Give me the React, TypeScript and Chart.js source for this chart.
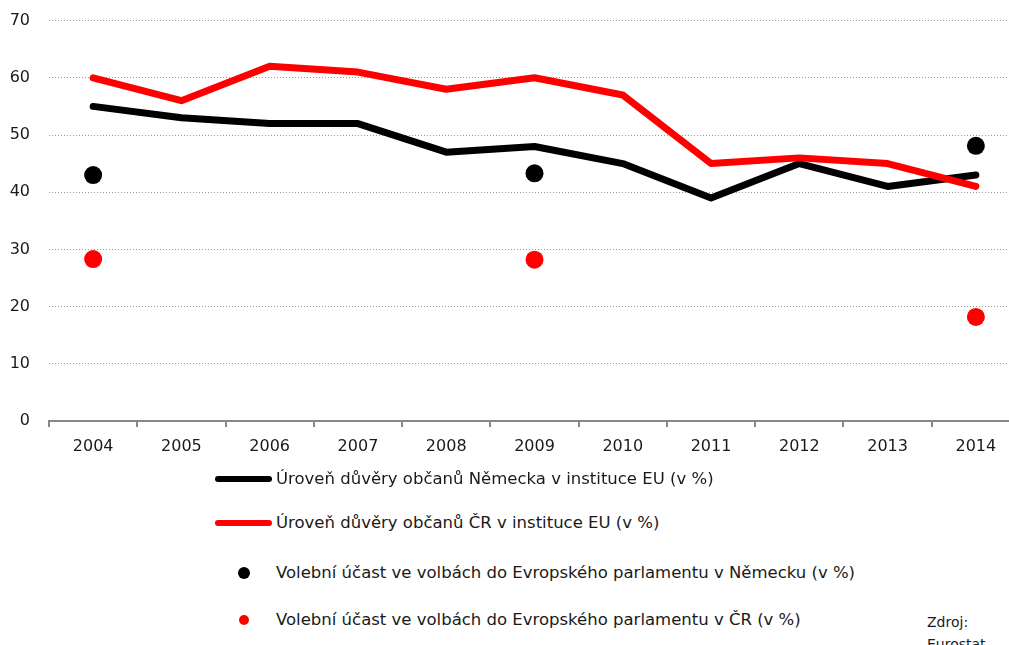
import React, { useEffect, useRef } from "react";
import { Chart, registerables } from "chart.js";

Chart.register(...registerables);

const years = ["2004", "2005", "2006", "2007", "2008", "2009", "2010", "2011", "2012", "2013", "2014"];
const trustDE = [55, 53, 52, 52, 47, 48, 45, 39, 45, 41, 43];
const trustCZ = [60, 56, 62, 61, 58, 60, 57, 45, 46, 45, 41];
const turnoutDE = [43.0, null, null, null, null, 43.3, null, null, null, null, 48.1];
const turnoutCZ = [28.3, null, null, null, null, 28.2, null, null, null, null, 18.2];
const yTicks = [0, 10, 20, 30, 40, 50, 60, 70];

const legendItems = [
  { kind: "line", color: "#000000", label: "Úroveň důvěry občanů Německa v instituce EU (v %)" },
  { kind: "line", color: "#ff0000", label: "Úroveň důvěry občanů ČR v instituce EU (v %)" },
  { kind: "dot", color: "#000000", label: "Volební účast ve volbách do Evropského parlamentu v Německu (v %)" },
  { kind: "dot", color: "#ff0000", label: "Volební účast ve volbách do Evropského parlamentu v ČR (v %)" },
];

const FONT = "'DejaVu Sans', sans-serif";

export default function App() {
  const ref = useRef<HTMLCanvasElement | null>(null);

  useEffect(() => {
    if (!ref.current) return;
    const chart = new Chart(ref.current, {
      type: "line",
      data: {
        labels: years,
        datasets: [
          {
            label: legendItems[2].label,
            data: turnoutDE,
            showLine: false,
            pointRadius: 9,
            pointHoverRadius: 9,
            pointBackgroundColor: "#000",
            pointBorderWidth: 0,
            borderColor: "#000",
            backgroundColor: "#000",
            order: 1,
          },
          {
            label: legendItems[3].label,
            data: turnoutCZ,
            showLine: false,
            pointRadius: 9,
            pointHoverRadius: 9,
            pointBackgroundColor: "#ff0000",
            pointBorderWidth: 0,
            borderColor: "#ff0000",
            backgroundColor: "#ff0000",
            order: 2,
          },
          {
            label: legendItems[1].label,
            data: trustCZ,
            borderColor: "#ff0000",
            backgroundColor: "#ff0000",
            borderWidth: 7,
            pointRadius: 0,
            tension: 0,
            borderCapStyle: "round",
            borderJoinStyle: "round",
            order: 3,
          },
          {
            label: legendItems[0].label,
            data: trustDE,
            borderColor: "#000000",
            backgroundColor: "#000000",
            borderWidth: 7,
            pointRadius: 0,
            tension: 0,
            borderCapStyle: "round",
            borderJoinStyle: "round",
            order: 4,
          },
        ],
      },
      options: {
        animation: false,
        responsive: false,
        maintainAspectRatio: false,
        layout: { padding: { top: 12, right: 1, left: 0, bottom: 0 } },
        plugins: {
          legend: { display: false },
          tooltip: { enabled: false },
        },
        scales: {
          x: {
            offset: true,
            afterFit: (axis: any) => {
              axis.height = 49;
            },
            grid: {
              display: true,
              offset: true,
              drawOnChartArea: false,
              drawTicks: true,
              tickLength: 6,
              color: "#888888",
              lineWidth: 2,
            },
            border: { display: true, color: "#888888", width: 2 },
            ticks: {
              color: "#1a1a1a",
              font: { family: FONT, size: 16 },
              padding: 10,
              maxRotation: 0,
            },
          },
          y: {
            min: 0,
            max: 70,
            afterFit: (axis: any) => {
              axis.width = 49;
            },
            afterBuildTicks: (axis: any) => {
              axis.ticks = yTicks.map((v) => ({ value: v }));
            },
            grid: {
              display: true,
              drawTicks: false,
              tickLength: 0,
              color: (ctx: any) => (ctx.tick && ctx.tick.value === 0 ? "rgba(0,0,0,0)" : "#9a9a9a"),
              lineWidth: 1,
            },
            border: { display: false, dash: [1, 2] },
            ticks: {
              color: "#1a1a1a",
              font: { family: FONT, size: 16 },
              padding: 19,
            },
          },
        },
      },
    });
    return () => chart.destroy();
  }, []);

  return (
    <div
      style={{
        position: "fixed",
        left: 0,
        top: 0,
        width: 1009,
        height: 645,
        overflow: "hidden",
        background: "#fff",
        fontFamily: FONT,
        color: "#1a1a1a",
      }}
    >
      <canvas
        ref={ref}
        width={1029}
        height={478}
        style={{ position: "absolute", left: 0, top: -8, width: 1029, height: 478 }}
      />
      {legendItems.map((item, i) => {
        const cy = [479, 523, 573, 620][i];
        return (
          <div key={i} style={{ position: "absolute", left: 0, top: cy - 12, height: 24, width: 1009 }}>
            {item.kind === "line" ? (
              <div
                style={{
                  position: "absolute",
                  left: 215,
                  top: 9,
                  width: 57,
                  height: 6,
                  borderRadius: 3,
                  background: item.color,
                }}
              />
            ) : (
              <div
                style={{
                  position: "absolute",
                  left: i === 2 ? 238 : 239,
                  top: i === 2 ? 6 : 7,
                  width: i === 2 ? 12 : 10,
                  height: i === 2 ? 12 : 10,
                  borderRadius: "50%",
                  background: item.color,
                }}
              />
            )}
            <span
              style={{
                position: "absolute",
                left: 276,
                top: 0,
                lineHeight: "24px",
                fontSize: 16.5,
                whiteSpace: "nowrap",
              }}
            >
              {item.label}
            </span>
          </div>
        );
      })}
      <div
        style={{
          position: "absolute",
          left: 927,
          top: 611,
          fontSize: 14,
          lineHeight: "22px",
        }}
      >
        Zdroj:
        <br />
        Eurostat
      </div>
    </div>
  );
}
